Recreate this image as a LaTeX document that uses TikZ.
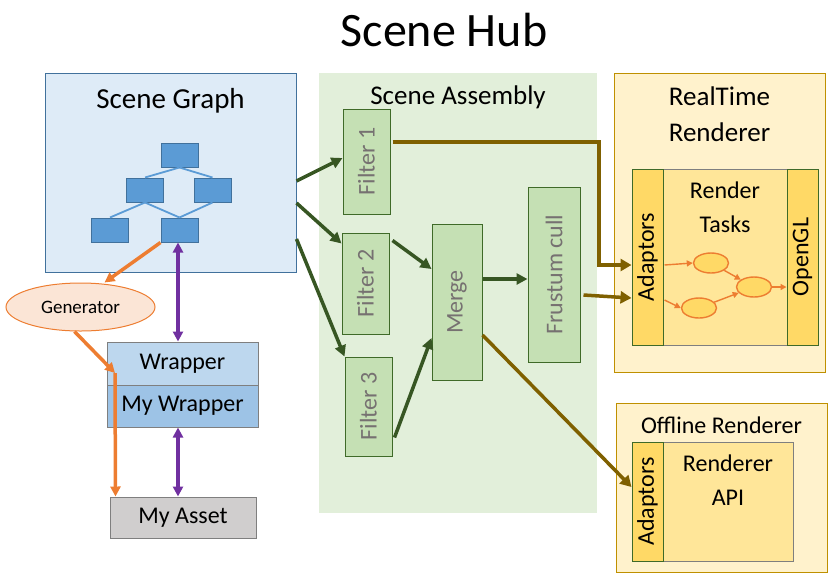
\documentclass[tikz,border=0pt]{standalone}
\usepackage{fontspec}
\setmainfont{Carlito}
\usetikzlibrary{arrows.meta,shapes.geometric,calc}
\definecolor{sgfill}{HTML}{DEEBF7}
\definecolor{sgdraw}{HTML}{41719C}
\definecolor{treefill}{HTML}{5B9BD5}
\definecolor{safill}{HTML}{E2EFDA}
\definecolor{filtfill}{HTML}{C5E0B4}
\definecolor{filtdraw}{HTML}{3F6A28}
\definecolor{filttext}{HTML}{767171}
\definecolor{dgreen}{HTML}{375623}
\definecolor{brn}{HTML}{7F6000}
\definecolor{rtfill}{HTML}{FFF2CC}
\definecolor{rtdraw}{HTML}{BF9000}
\definecolor{adfill}{HTML}{FFD966}
\definecolor{taskfill}{HTML}{FFE699}
\definecolor{orng}{HTML}{ED7D31}
\definecolor{purp}{HTML}{7030A0}
\definecolor{wrapfill}{HTML}{BDD7EE}
\definecolor{mywrapfill}{HTML}{9DC3E6}
\definecolor{assetfill}{HTML}{D0CECE}
\definecolor{genfill}{HTML}{FBE5D6}
\definecolor{grayline}{HTML}{7F7F7F}
\tikzset{
  box/.style={draw, rectangle, inner sep=0pt, line width=1pt},
  treebox/.style={box, fill=treefill, draw=sgdraw, minimum width=37pt, minimum height=24pt},
  treeline/.style={draw=treefill, line width=1.8pt},
  filtbox/.style={box, fill=filtfill, draw=filtdraw},
  filtlabel/.style={rotate=90, text=filttext, font=\fontsize{24}{28}\selectfont, inner sep=0pt},
  grarrow/.style={draw=dgreen, line width=3.5pt, -{Triangle[length=11pt,width=11pt]}},
  brarrow/.style={draw=brn, line width=3.5pt, -{Triangle[length=11pt,width=12pt]}},
  orarrow/.style={draw=orng, line width=3.5pt, -{Triangle[length=10pt,width=10pt]}},
  smallor/.style={draw=orng, line width=1.4pt, -{Triangle[length=6pt,width=6pt]}},
  puarrow/.style={draw=purp, line width=3.5pt, {Triangle[length=10pt,width=10pt]}-{Triangle[length=10pt,width=10pt]}},
  adbox/.style={box, fill=adfill, draw=filtdraw},
  txt/.style={inner sep=0pt, font=\fontsize{24}{34}\selectfont, align=center},
  task/.style={ellipse, draw=orng, fill=adfill, line width=1.4pt, minimum width=35pt, minimum height=20pt, inner sep=0pt}
}
\begin{document}
\begin{tikzpicture}[x=1pt,y=-1pt]
\useasboundingbox (0,0) rectangle (835,582);
\node[inner sep=0pt, font=\fontsize{48}{56}\selectfont] (title) at (444,30) {Scene Hub};

% Scene Graph
\node[box, fill=sgfill, draw=sgdraw, minimum width=251pt, minimum height=199pt] (sg) at (170.5,172.5) {};
\node[inner sep=0pt, font=\fontsize{29}{34}\selectfont] (sgt) at (170.5,101) {Scene Graph};
\node[treebox] (t1) at (179.5,155) {};
\node[treebox] (t2) at (145,190) {};
\node[treebox] (t3) at (212.5,190) {};
\node[treebox] (t4) at (110,230) {};
\node[treebox] (t5) at (179.5,230) {};
\draw[treeline] (t1.south) -- (t2.north);
\draw[treeline] (t1.south) -- (t3.north);
\draw[treeline] (t2.south) -- (t4.north);
\draw[treeline] (t2.south) -- (t5.north);
\draw[treeline] (t3.south) -- (t5.north);

% Generator / wrappers / asset
\node[ellipse, draw=orng, fill=genfill, line width=1pt, minimum width=149pt, minimum height=48pt, inner sep=0pt, font=\fontsize{19}{22}\selectfont] (gen) at (80.5,307) {Generator};
\node[box, fill=wrapfill, draw=grayline, minimum width=151pt, minimum height=43pt, font=\fontsize{24}{28}\selectfont] (wrap) at (182.5,363.5) {Wrapper};
\node[box, fill=mywrapfill, draw=grayline, minimum width=151pt, minimum height=42pt, font=\fontsize{24}{28}\selectfont] (mywrap) at (182.5,406) {My Wrapper};
\node[box, fill=assetfill, draw=grayline, minimum width=146pt, minimum height=41pt, font=\fontsize{24}{28}\selectfont] (asset) at (183,517.5) {My Asset};
\coordinate (gj) at (115,373);
\draw[orarrow] (t5.south west) -- ([xshift=24pt]gen.north);
\draw[orarrow] ([xshift=-6pt]gen.south) -- (gj);
\draw[draw=orng, line width=3.5pt, -{Triangle[length=10pt,width=10pt]}] (gj) -- ([xshift=6pt]asset.north west);
\draw[puarrow] ([xshift=-1.5pt]t5.south) -- ([xshift=-1.5pt]t5.south |- wrap.north);
\draw[puarrow] ([xshift=-4.5pt]mywrap.south) -- ([xshift=-4.5pt]mywrap.south |- asset.north);

% Scene Assembly
\node[rectangle, fill=safill, inner sep=0pt, minimum width=278pt, minimum height=440pt] (sa) at (458,293) {};
\node[inner sep=0pt, font=\fontsize{27}{32}\selectfont] (sat) at (458,97) {Scene Assembly};
\node[filtbox, minimum width=47pt, minimum height=105pt] (f1) at (366.5,161.5) {};
\node[filtlabel] (f1t) at (f1) {Filter 1};
\node[filtbox, minimum width=47pt, minimum height=101pt] (f2) at (365.5,283.5) {};
\node[filtlabel] (f2t) at (f2) {Filter 2};
\node[filtbox, minimum width=47pt, minimum height=99pt] (f3) at (368.5,406.5) {};
\node[filtlabel] (f3t) at (f3) {Filter 3};
\node[filtbox, minimum width=50pt, minimum height=156pt] (merge) at (457,302) {};
\node[filtlabel] (merget) at (merge) {Merge};
\node[filtbox, minimum width=52pt, minimum height=175pt] (fc) at (554,274.5) {};
\node[filtlabel] (fct) at (fc) {Frustum cull};

\draw[grarrow] ([yshift=-8.5pt]sg.east) -- ([yshift=3.5pt]f1.west);
\draw[grarrow] ([yshift=-30.5pt]sg.east) -- ([yshift=-11pt]f2.north west);
\draw[grarrow] ([yshift=-66.5pt]sg.east) -- (f3.north west);
\draw[grarrow] ([xshift=3pt,yshift=-8pt]f2.north east) -- ([yshift=33pt]merge.west);
\draw[grarrow] ([xshift=2pt,yshift=19pt]f3.south east) -- ([yshift=-36pt]merge.west);
\draw[grarrow] ([yshift=23pt]merge.east) -- ([yshift=23pt]merge.east -| fc.west);

% RealTime Renderer
\node[box, fill=rtfill, draw=rtdraw, minimum width=211pt, minimum height=299pt] (rt) at (719.5,222.5) {};
\node[inner sep=0pt, font=\fontsize{27}{36}\selectfont, align=center] (rtt) at (719.5,114) {RealTime\\Renderer};
\node[box, fill=taskfill, draw=grayline, minimum width=124pt, minimum height=176pt] (tasks) at (725,257) {};
\node[adbox, minimum width=31pt, minimum height=176pt] (ad1) at (647.5,257) {};
\node[txt, rotate=90] (ad1t) at (ad1) {Adaptors};
\node[adbox, minimum width=31pt, minimum height=176pt] (gl) at (802.5,257) {};
\node[txt, rotate=90] (glt) at (gl) {OpenGL};
\node[txt] (taskst) at (725,207) {Render\\Tasks};
\node[task] (e1) at (711,263) {};
\node[task] (e2) at (699,308) {};
\node[task] (e3) at (754,287) {};
\draw[smallor] ([xshift=1pt,yshift=-8pt]ad1.east) -- (e1.west);
\draw[smallor] ([xshift=1pt,yshift=-43pt]ad1.east) -- (e2.west);
\draw[smallor] (e1) -- (e3);
\draw[smallor] (e2) -- (e3);
\draw[smallor] (e3.east) -- (e3.east -| gl.west);

% Offline Renderer
\node[box, fill=rtfill, draw=rtdraw, minimum width=211pt, minimum height=169pt] (off) at (721.5,487.5) {};
\node[txt] (offt) at (721.5,425) {Offline Renderer};
\node[box, fill=taskfill, draw=grayline, minimum width=130pt, minimum height=119pt] (api) at (728,501.5) {};
\node[adbox, minimum width=31pt, minimum height=119pt] (ad2) at (647.5,501.5) {};
\node[txt, rotate=90] (ad2t) at (ad2) {Adaptors};
\node[txt] (apit) at (728,480) {Renderer\\API};

% brown connectors
\draw[brarrow] ([xshift=2pt,yshift=19.5pt]f1.east) -- ([xshift=2pt,yshift=19.5pt]f1.east -| sa.east) |- ([yshift=-8pt]ad1.west);
\draw[brarrow] ([xshift=3pt,yshift=-20.5pt]fc.east) -- ([yshift=-41pt]ad1.west);
\draw[brarrow] ([yshift=-33pt]merge.east) -- ([yshift=14.5pt]ad2.west);
\end{tikzpicture}
\end{document}
